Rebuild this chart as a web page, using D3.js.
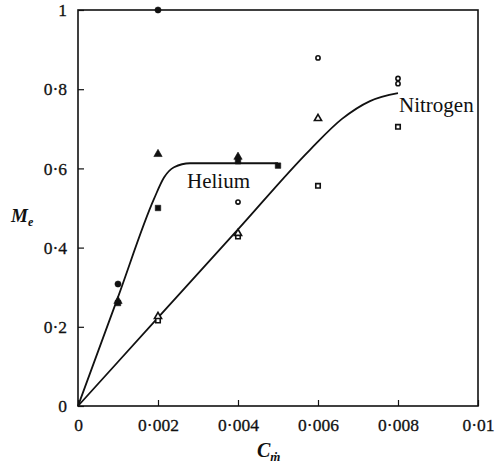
<!DOCTYPE html>
<html><head><meta charset="utf-8">
<script src="https://cdn.jsdelivr.net/npm/d3@7"></script>
<style>body{margin:0;background:#fff}svg{display:block}</style>
</head><body>
<svg id="c" width="497" height="470"></svg>
<script>
const xTicks = [0, 0.002, 0.004, 0.006, 0.008, 0.01];
const xTickLabels = ["0", "0·002", "0·004", "0·006", "0·008", "0·01"];
const yTicks = [0, 0.2, 0.4, 0.6, 0.8, 1];
const yTickLabels = ["0", "0·2", "0·4", "0·6", "0·8", "1"];

// Helium (filled markers)
const heliumCircles = [[0.001, 0.308], [0.002, 1.0]];
const heliumTriangles = [[0.001, 0.265], [0.002, 0.636], [0.004, 0.629]];
const heliumSquares = [[0.001, 0.26], [0.002, 0.5], [0.004, 0.618], [0.005, 0.607]];
// Nitrogen (open markers)
const nitrogenCircles = [[0.004, 0.515], [0.006, 0.879], [0.008, 0.827], [0.008, 0.814]];
const nitrogenTriangles = [[0.002, 0.226], [0.004, 0.436], [0.006, 0.726]];
const nitrogenSquares = [[0.002, 0.216], [0.004, 0.428], [0.006, 0.556], [0.008, 0.705]];

const heliumCurve = [[0, 0], [0.001, 0.275], [0.0019, 0.523], [0.00215, 0.577], [0.0024, 0.603], [0.0028, 0.613], [0.005, 0.613]];
const nitrogenCurve = [[0, 0], [0.002, 0.223], [0.004, 0.446], [0.0058, 0.647], [0.0066, 0.725], [0.0073, 0.77], [0.008, 0.79]];

const svg = d3.select("#c");
const x = d3.scaleLinear().domain([0, 0.01]).range([78, 478]);
const y = d3.scaleLinear().domain([0, 1]).range([406, 10]);
const serif = "'Liberation Serif','DejaVu Serif',serif";

// frame
svg.append("rect").attr("x", 78).attr("y", 10).attr("width", 400).attr("height", 396)
  .attr("fill", "none").attr("stroke", "#111").attr("stroke-width", 1.6);

// axes with inward ticks
const xAxis = svg.append("g").attr("transform", "translate(0,406)")
  .call(d3.axisBottom(x).tickValues(xTicks).tickSize(-6).tickPadding(13)
    .tickFormat((d, i) => xTickLabels[i]));
const yAxis = svg.append("g").attr("transform", "translate(78,0)")
  .call(d3.axisLeft(y).tickValues(yTicks).tickSize(-6).tickPadding(11)
    .tickFormat((d, i) => yTickLabels[i]));
[xAxis, yAxis].forEach(g => {
  g.select(".domain").remove();
  g.selectAll("line").attr("stroke", "#111").attr("stroke-width", 1.2);
  g.selectAll("text").attr("font-family", serif).attr("font-size", 17.5).attr("fill", "#111")
    .attr("stroke", "#111").attr("stroke-width", 0.3);
});

// curves
const line = d3.line().x(d => x(d[0])).y(d => y(d[1])).curve(d3.curveMonotoneX);
[heliumCurve, nitrogenCurve].forEach(c =>
  svg.append("path").attr("d", line(c)).attr("fill", "none").attr("stroke", "#111").attr("stroke-width", 1.8));

// markers
function draw(data, type, filled, size) {
  const sym = d3.symbol().type(type).size(size);
  svg.append("g").selectAll("path").data(data).join("path")
    .attr("transform", d => `translate(${x(d[0])},${y(d[1])})`)
    .attr("d", sym)
    .attr("fill", filled ? "#111" : "#fff")
    .attr("stroke", "#111").attr("stroke-width", filled ? 0.6 : 1.6);
}
draw(nitrogenSquares, d3.symbolSquare, false, 20);
draw(nitrogenTriangles, d3.symbolTriangle, false, 22);
draw(nitrogenCircles, d3.symbolCircle, false, 14);
draw(heliumSquares, d3.symbolSquare, true, 30);
draw(heliumTriangles, d3.symbolTriangle, true, 30);
draw(heliumCircles, d3.symbolCircle, true, 30);

// labels
svg.append("text").attr("x", 187).attr("y", 188).attr("font-family", serif).attr("font-size", 21)
  .attr("fill", "#111").text("Helium");
svg.append("text").attr("x", 399).attr("y", 112).attr("font-family", serif).attr("font-size", 21)
  .attr("fill", "#111").text("Nitrogen");

const yl = svg.append("text").attr("x", 11).attr("y", 222).attr("font-family", serif)
  .attr("font-style", "italic").attr("font-weight", "bold").attr("font-size", 19).attr("fill", "#111");
yl.append("tspan").text("M");
yl.append("tspan").attr("dy", 4).attr("font-size", 12).text("e");

const xl = svg.append("text").attr("x", 257).attr("y", 457).attr("font-family", serif)
  .attr("font-style", "italic").attr("font-weight", "bold").attr("font-size", 20).attr("fill", "#111");
xl.append("tspan").text("C");
xl.append("tspan").attr("dy", 4).attr("font-size", 13).text("ṁ");
</script>
</body></html>
